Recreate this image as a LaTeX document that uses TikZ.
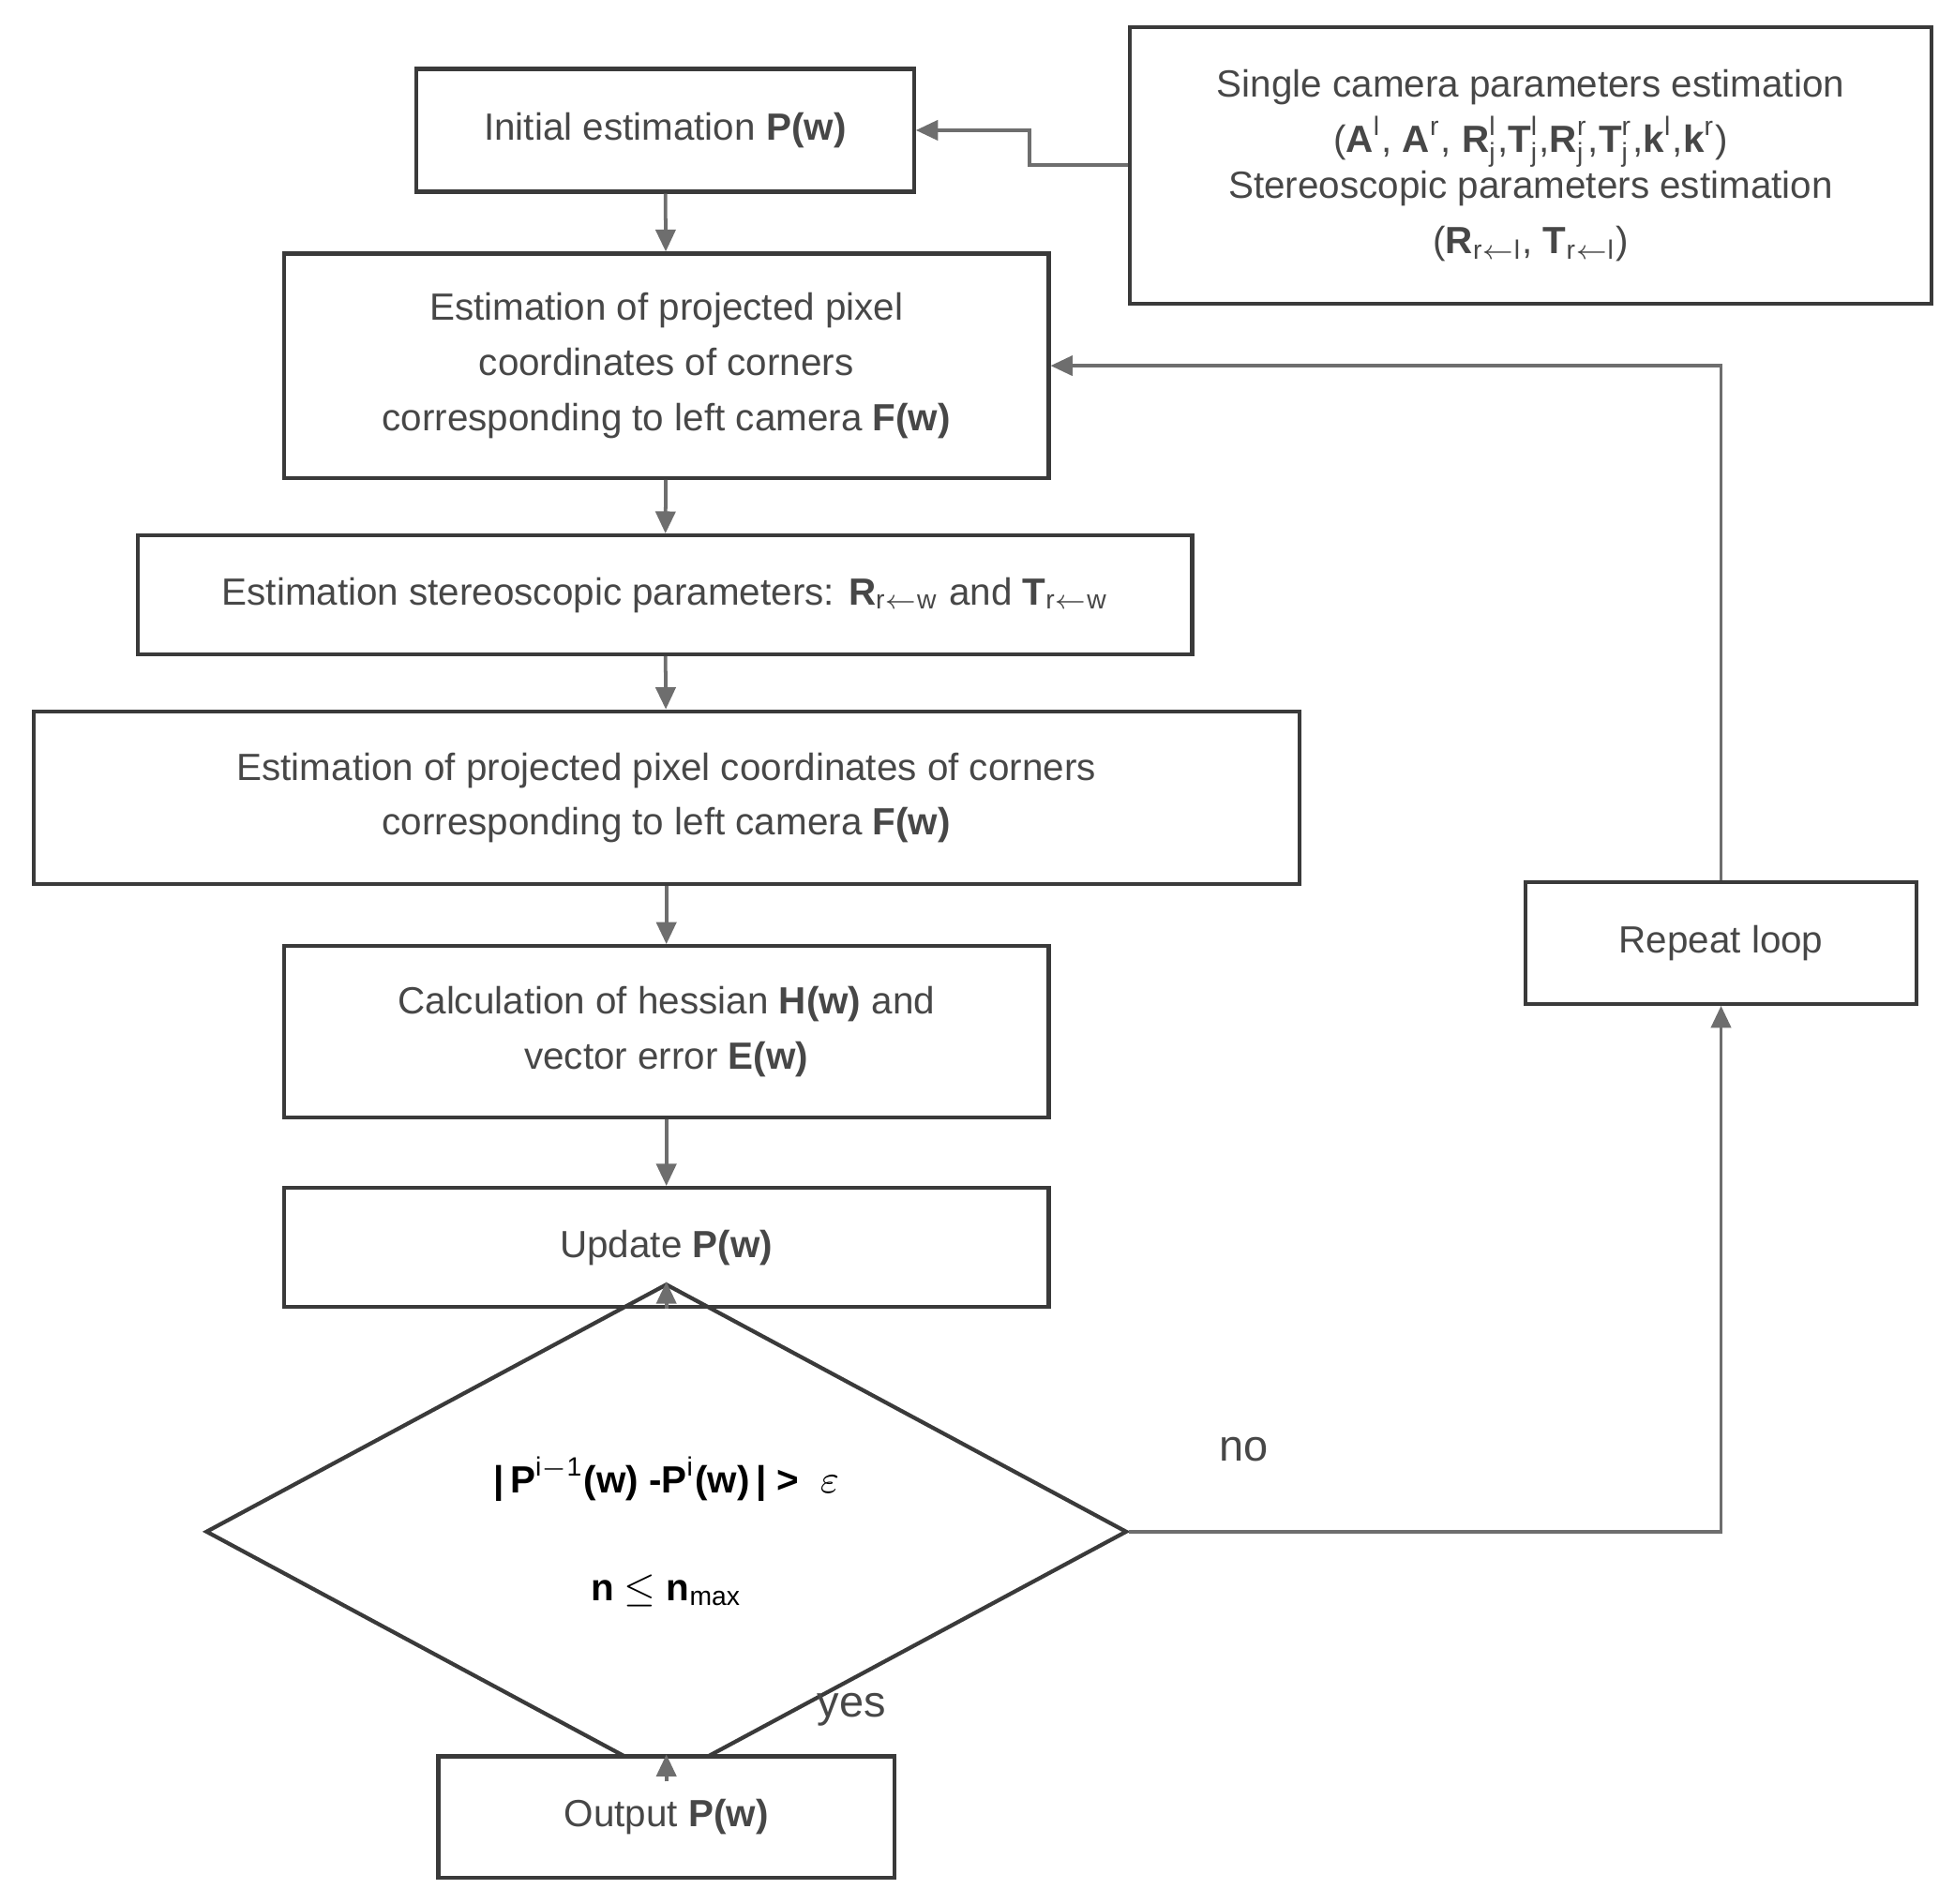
\documentclass[tikz,border=0pt]{standalone}
\usepackage{fontspec}
\setmainfont{Liberation Sans}
\usetikzlibrary{shapes.geometric,arrows.meta}
\definecolor{txt}{HTML}{474747}
\definecolor{edge}{HTML}{3A3A3A}
\definecolor{conn}{HTML}{6E6E6E}
\begin{document}
\begin{tikzpicture}[x=0.01cm,y=-0.01cm,
                box/.style={rectangle,draw=edge,line width=0.9pt,fill=white,
                inner sep=2pt,align=center,text=txt,font=\fontsize{8.6}{12.5}\selectfont},
                cond/.style={diamond,draw=edge,line width=0.9pt,inner sep=0pt,
                minimum width=7.35cm,minimum height=2.7cm,align=center,
                font=\fontsize{8.6}{12.5}\selectfont\bfseries},
                lbl/.style={text=txt,font=\fontsize{10}{12}\selectfont},
                arr/.style={-{Triangle[length=5pt,width=4.5pt]},draw=conn,line width=0.8pt}]
                \useasboundingbox (0,0) rectangle (1560,1520);
                \node (init) at (531,104) [box,minimum width=3.97cm,minimum height=0.98cm] {Initial estimation \textbf{P(w)}};
                \node (single) at (1222,132) [box,minimum width=6.4cm,minimum height=2.21cm] {Single camera parameters estimation\\
                (\textbf{A}$^{\mathrm{l}}$, \textbf{A}$^{\mathrm{r}}$, \textbf{R}$^{\mathrm{l}}_{\mathrm{j}}$,\textbf{T}$^{\mathrm{l}}_{\mathrm{j}}$,\textbf{R}$^{\mathrm{r}}_{\mathrm{j}}$,\textbf{T}$^{\mathrm{r}}_{\mathrm{j}}$,\textbf{k}$^{\mathrm{l}}$,\textbf{k}$^{\mathrm{r}}$)\\[-2pt]
                Stereoscopic parameters estimation\\
                (\textbf{R}$_{\mathrm{r\leftarrow l}}$, \textbf{T}$_{\mathrm{r\leftarrow l}}$)};
                \node (proj1) at (532,292) [box,minimum width=6.1cm,minimum height=1.79cm] {Estimation of projected pixel\\coordinates of corners\\corresponding to left camera \textbf{F(w)}};
                \node (stereo) at (531,475) [box,minimum width=8.41cm,minimum height=0.95cm] {Estimation stereoscopic parameters: \textbf{R}$_{\mathrm{r\leftarrow w}}$ and \textbf{T}$_{\mathrm{r\leftarrow w}}$};
                \node (proj2) at (532,637) [box,minimum width=10.1cm,minimum height=1.38cm] {Estimation of projected pixel coordinates of corners\\corresponding to left camera \textbf{F(w)}};
                \node (hess) at (532,824) [box,minimum width=6.1cm,minimum height=1.37cm] {Calculation of hessian \textbf{H(w)} and\\vector error \textbf{E(w)}};
                \node (upd) at (532,996) [box,minimum width=6.1cm,minimum height=0.95cm] {Update \textbf{P(w)}};
                \node (test) at (532,1223) [cond] {|\,P$^{\mathrm{i-1}}$(w) -P$^{\mathrm{i}}$(w)\,| >\ \ $\varepsilon$\\[12pt]
                n $\leq$ n$_{\mathrm{max}}$};
                \node (out) at (532,1451) [box,minimum width=3.64cm,minimum height=0.97cm] {Output \textbf{P(w)}};
                \node (rep) at (1374,753) [box,minimum width=3.12cm,minimum height=0.97cm] {Repeat loop};
                \node (no) at (993,1157) [lbl] {no};
                \node (yes) at (680,1365) [lbl] {yes};
                \draw[arr] (single.west) -| (822,132) |- (init.east);
                \draw[arr] (init) -- (proj1);
                \draw[arr] (proj1) -- (stereo);
                \draw[arr] (stereo) -- (proj2);
                \draw[arr] (proj2) -- (hess);
                \draw[arr] (hess) -- (upd);
                \draw[arr] (upd) -- (test);
                \draw[arr] (test) -- (out);
                \draw[arr] (test.east) -| (rep.south);
                \draw[arr] (rep.north) |- (proj1.east);
            \end{tikzpicture}
\end{document}
